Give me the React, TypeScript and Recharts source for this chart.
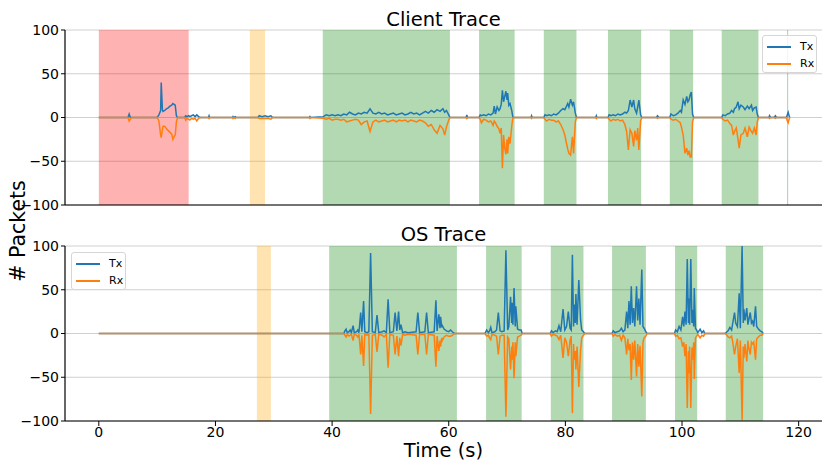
import { LineChart, Line, XAxis, YAxis, CartesianGrid, ReferenceArea } from 'recharts'

// client trace, packets per sample (Rx drawn negative)
const clientTime = [
  0, 5.0, 5.2, 5.4, 5.6,
  10.0, 10.3, 10.6, 10.7, 10.9, 11.0, 11.3, 11.6, 11.9, 12.2, 12.5, 12.7, 12.9, 13.1, 13.3, 13.5,
  14.7, 14.9, 15.1, 15.4, 15.6, 15.9, 16.2, 16.5, 16.8, 17.1, 17.4,
  18.8, 18.9, 19.0,
  22.9, 23.0, 23.1, 23.4, 23.5,
  27.3, 27.5, 28.0, 28.5, 29.0, 29.5, 29.8,
  36.1, 36.2, 36.3,
  38.5, 39, 39.5, 40, 40.5, 41, 41.5, 42, 42.5, 43, 43.5, 44, 44.5, 45, 45.5, 46, 46.5, 47, 47.5, 48, 48.5, 49, 49.5, 50,
  50.5, 51, 51.5, 52, 52.5, 53, 53.5, 54, 54.5, 55, 55.5, 56, 56.5, 57, 57.5, 58, 58.5, 59, 59.3, 59.6, 60, 60.2,
  63.0, 63.1, 63.2,
  65.2, 65.4, 65.6, 66.0, 66.4, 66.8, 67.2, 67.6, 67.8, 68.0, 68.3, 68.6, 68.8, 69.0, 69.2, 69.4, 69.6, 69.8, 70.0, 70.1, 70.3, 70.5, 70.8, 71.0,
  74.1, 74.2, 74.3,
  76.3, 76.5, 76.8, 77.2, 77.6, 78.0, 78.4, 78.8, 79.2, 79.6, 79.9, 80.2, 80.4, 80.6, 80.9, 81.1, 81.2, 81.4, 81.7, 81.9,
  85.2, 85.3, 85.4,
  87.3, 87.5, 87.8, 88.2, 88.6, 89.0, 89.4, 89.8, 90.2, 90.5, 90.8, 91.1, 91.4, 91.7, 91.9, 92.2, 92.4, 92.6, 92.9, 93.1,
  95.6, 95.8, 96.0,
  97.9, 98.1, 98.5, 98.9, 99.3, 99.7, 99.9, 100.2, 100.5, 100.8, 101.0, 101.2, 101.4, 101.6, 101.8, 102.0,
  106.8, 107.0, 107.4, 107.8, 108.2, 108.5, 108.8, 109.0, 109.3, 109.6, 109.8, 110.1, 110.5, 110.8, 111.2, 111.5, 111.9, 112.1, 112.4, 112.7, 112.9, 113.1,
  114.9, 115.0, 115.2, 115.8, 116.0, 116.2,
  117.9, 118.0, 118.2, 118.4, 118.5,
]
const clientTx = [
  0, 0, 4, 0, 0,
  0, 3, 8, 40, 9, 7, 8, 10, 11, 13, 14, 16, 15, 14, 2, 0,
  0, 2, 1, 2, 1, 2, 3, 1, 3, 1, 0,
  0, 2, 0,
  0, 1, 0, 1, 0,
  0, 2, 1, 2, 1, 2, 0,
  0, 1, 0,
  1, 3, 2, 3, 2, 3, 2, 4, 3, 6, 4, 3, 5, 4, 6, 5, 10, 5, 4, 6, 4, 5, 3, 4,
  5, 3, 4, 5, 3, 4, 6, 4, 5, 3, 5, 7, 5, 8, 6, 9, 7, 10, 6, 8, 3, 0,
  0, 3, 0,
  0, 3, 2, 3, 2, 4, 3, 5, 13, 4, 12, 8, 10, 15, 31, 18, 24, 30, 20, 28, 14, 16, 8, 0,
  0, 2, 0,
  0, 3, 2, 3, 2, 4, 3, 5, 8, 10, 9, 13, 16, 12, 21, 16, 14, 18, 5, 0,
  0, 2, 0,
  0, 3, 2, 3, 2, 4, 3, 4, 6, 5, 8, 20, 12, 20, 10, 5, 12, 20, 3, 0,
  0, 2, 0,
  0, 4, 2, 3, 5, 8, 6, 20, 15, 24, 18, 20, 26, 29, 4, 0,
  0, 3, 2, 4, 5, 8, 6, 10, 12, 18, 10, 14, 12, 9, 13, 10, 14, 8, 11, 12, 4, 0,
  0, 2, 0, 0, 2, 0,
  0, 2, 6, 1, 0,
]
const clientRx = [
  0, 0, -4, -2, 0,
  0, -4, -20, -23, -14, -10, -10, -13, -15, -17, -19, -25, -22, -20, -5, 0,
  0, -3, -1, -2, -3, -1, -2, -1, -4, -1, 0,
  0, -1, 0,
  0, -1, 0, -1, 0,
  0, -1, -1, -1, -1, -2, 0,
  0, -1, 0,
  -1, -2, -1, -3, -2, -2, -3, -2, -5, -4, -3, -2, -3, -8, -5, -4, -16, -5, -3, -5, -4, -3, -5, -4,
  -3, -5, -3, -4, -3, -5, -3, -4, -5, -3, -4, -6, -10, -8, -14, -18, -9, -13, -20, -11, -3, 0,
  0, -1, 0,
  0, -2, -6, -2, -3, -5, -4, -9, -4, -6, -10, -13, -18, -12, -58, -20, -35, -42, -25, -41, -22, -30, -10, 0,
  0, -1, 0,
  0, -2, -4, -2, -3, -3, -5, -4, -8, -14, -20, -30, -36, -41, -43, -28, -22, -41, -5, 0,
  0, -1, 0,
  0, -2, -4, -2, -3, -2, -4, -3, -8, -16, -37, -14, -18, -33, -15, -26, -12, -37, -4, 0,
  0, -1, 0,
  0, -2, -3, -2, -4, -6, -11, -20, -41, -35, -43, -38, -45, -45, -5, 0,
  0, -2, -4, -3, -7, -9, -20, -16, -12, -25, -35, -20, -18, -12, -22, -11, -16, -18, -12, -20, -5, 0,
  0, -1, 0, 0, -1, 0,
  0, -3, -6, -1, 0,
]

// OS trace
const osTime = [
  0, 42.0,
  42.2, 42.4, 42.6, 42.9, 43.1, 43.3, 43.6, 43.8, 44.2, 44.4, 44.6, 44.9, 45.1, 45.4, 45.6, 46.0, 46.3, 46.6, 46.9, 47.4,
  47.7, 48.0, 48.6, 48.9, 49.3, 49.6, 49.9, 50.5, 50.8, 51.1, 51.4, 51.6, 51.8, 52.1, 52.5, 53.0, 54.4, 54.7, 55.0, 55.9,
  56.2, 56.5, 57.5, 57.8, 58.0, 58.3, 58.5, 58.6, 58.8, 58.9, 59.2, 59.6, 60.0, 60.3, 60.6, 61.0,
  66.2, 66.5, 66.8, 67.0, 67.2, 67.4, 67.9, 68.2, 68.5, 68.8, 69.1, 69.5, 69.8, 70.1, 70.3, 70.6, 70.8, 70.9, 71.0, 71.2,
  71.4, 71.5, 71.8, 72.1, 72.4, 72.6,
  77.4, 77.6, 77.9, 78.3, 78.6, 78.9, 79.2, 79.6, 79.9, 80.2, 80.5, 80.8, 81.0, 81.2, 81.4, 81.5, 81.7, 81.8, 82.0, 82.3,
  82.6, 82.8, 83.1, 83.3,
  88.0, 88.2, 88.5, 88.9, 89.3, 89.6, 89.9, 90.2, 90.5, 90.7, 90.9, 91.1, 91.3, 91.5, 91.7, 91.9, 92.2, 92.4, 92.6, 92.8,
  93.1, 93.3, 93.5, 93.8, 94.0,
  98.7, 98.9, 99.2, 99.5, 99.8, 100.1, 100.3, 100.5, 100.7, 100.9, 101.1, 101.2, 101.3, 101.5, 101.7, 101.8, 102.0, 102.1, 102.3, 102.5,
  102.7, 103.1, 103.4, 103.7, 103.9,
  107.4, 107.7, 107.9, 108.2, 108.5, 108.7, 109.0, 109.2, 109.5, 109.8, 110.0, 110.3, 110.5, 110.6, 110.8, 111.1, 111.3, 111.4, 111.7, 111.9,
  112.1, 112.3, 112.6, 112.8, 113.1, 113.4, 113.7, 113.9,
]
const osTx = [
  0, 0,
  3, 5, 1, 2, 4, 1, 9, 1, 2, 4, 1, 24, 2, 37, 2, 1, 2, 92, 2, 1,
  21, 1, 2, 3, 1, 39, 1, 2, 24, 3, 25, 4, 10, 1, 2, 1, 2, 24, 1, 2,
  24, 1, 2, 38, 3, 22, 6, 19, 7, 9, 5, 3, 2, 4, 2, 0,
  0, 4, 1, 3, 7, 1, 2, 4, 24, 3, 2, 3, 95, 4, 8, 42, 12, 35, 10, 52,
  8, 31, 5, 4, 4, 0,
  0, 3, 1, 3, 2, 9, 2, 28, 4, 8, 25, 6, 4, 90, 8, 33, 12, 45, 10, 61,
  16, 4, 2, 0,
  0, 3, 1, 2, 3, 6, 2, 4, 25, 6, 37, 10, 54, 12, 29, 8, 54, 15, 40, 10,
  73, 8, 6, 2, 0,
  0, 4, 2, 8, 4, 19, 8, 25, 10, 85, 12, 40, 10, 85, 12, 27, 8, 52, 6, 4,
  1, 5, 1, 3, 0,
  0, 2, 3, 7, 4, 12, 24, 12, 8, 46, 6, 100, 12, 28, 15, 29, 10, 14, 24, 12,
  14, 8, 31, 8, 5, 3, 2, 0,
]
const osRx = [
  0, 0,
  -2, -4, -1, -3, -2, -1, -8, -1, -2, -4, -1, -24, -2, -37, -1, -2, -1, -92, -2, -1,
  -21, -1, -2, -4, -1, -39, -1, -2, -24, -3, -26, -5, -14, -1, -2, -1, -2, -24, -1, -1,
  -24, -1, -2, -38, -3, -20, -8, -15, -5, -8, -4, -2, -3, -3, -2, 0,
  0, -3, -2, -5, -7, -1, -2, -3, -24, -3, -2, -2, -95, -4, -6, -41, -15, -30, -10, -51,
  -10, -26, -4, -3, -2, 0,
  0, -3, -1, -2, -3, -7, -2, -28, -5, -10, -26, -8, -3, -91, -12, -30, -20, -41, -15, -61,
  -19, -5, -2, 0,
  0, -3, -1, -3, -2, -8, -2, -5, -24, -6, -19, -12, -53, -10, -30, -8, -49, -12, -38, -14,
  -72, -10, -5, -3, 0,
  0, -3, -2, -6, -5, -15, -10, -26, -12, -85, -20, -45, -15, -85, -16, -30, -10, -52, -5, -3,
  -1, -5, -2, -3, 0,
  0, -2, -4, -5, -3, -10, -24, -15, -6, -45, -8, -99, -15, -28, -12, -32, -8, -15, -24, -10,
  -12, -10, -30, -6, -4, -2, -2, 0,
]

// shaded phases [start, end, kind]
const clientPhases: [number, number, string][] = [
  [0, 15.4, 'red'], [25.9, 28.5, 'orange'], [38.4, 60.2, 'green'], [65.2, 71.3, 'green'],
  [76.3, 81.9, 'green'], [87.3, 93.0, 'green'], [97.9, 101.9, 'green'], [106.8, 113.1, 'green'],
  [118.0, 118.2, 'green'],
]
const osPhases: [number, number, string][] = [
  [27.1, 29.5, 'orange'], [39.5, 61.4, 'green'], [66.4, 72.5, 'green'], [77.5, 83.1, 'green'],
  [88.0, 93.8, 'green'], [98.8, 102.6, 'green'], [107.5, 113.9, 'green'],
]

const xTicks = [0, 20, 40, 60, 80, 100, 120]
const yTicks = [-100, -50, 0, 50, 100]

const phaseColor: Record<string, string> = { red: '#ff0000', orange: '#ffa500', green: '#008000' }
const TX = '#1f77b4'
const RX = '#ff7f0e'
const FONT = 'DejaVu Sans, sans-serif'

const minus = (v: number) => String(v).replace('-', '\u2212')

function build(time: number[], tx: number[], rx: number[]) {
  return time.map((t, i) => ({ t, tx: tx[i], rx: rx[i] }))
}

function TraceChart({ data, phases, height, xHeight, labels }: {
  data: { t: number; tx: number; rx: number }[]
  phases: [number, number, string][]
  height: number
  xHeight: number
  labels: boolean
}) {
  return (
    <LineChart width={823} height={height} data={data} margin={{ top: 30, right: 1, bottom: 0, left: 0 }}>
      <CartesianGrid vertical={false} stroke="#d0d0d0" strokeWidth={1} />
      {phases.map(([a, b, k], i) => (
        <ReferenceArea key={i} x1={a} x2={b} y1={-100} y2={100} fill={phaseColor[k]} fillOpacity={0.3} strokeWidth={0} ifOverflow="hidden" />
      ))}
      <XAxis
        type="number"
        dataKey="t"
        domain={[-5.8, 124]}
        ticks={xTicks}
        allowDataOverflow
        height={xHeight}
        tickSize={5}
        tickMargin={1}
        tick={labels ? { fill: '#000', fontSize: 14, fontFamily: FONT } : false}
        axisLine={{ stroke: '#000', strokeWidth: 1.2 }}
        tickLine={{ stroke: '#000' }}
      />
      <YAxis
        type="number"
        domain={[-100, 100]}
        ticks={yTicks}
        width={65}
        tickSize={4}
        tickMargin={2}
        tickFormatter={minus}
        tick={{ fill: '#000', fontSize: 14, fontFamily: FONT }}
        axisLine={{ stroke: '#000', strokeWidth: 1.2 }}
        tickLine={{ stroke: '#000' }}
      />
      <Line type="linear" dataKey="tx" stroke={TX} strokeWidth={1.5} dot={false} isAnimationActive={false} />
      <Line type="linear" dataKey="rx" stroke={RX} strokeWidth={1.5} dot={false} isAnimationActive={false} />
    </LineChart>
  )
}

function LegendBox({ left, top }: { left: number; top: number }) {
  const row = (color: string, label: string) => (
    <div style={{ display: 'flex', alignItems: 'center', height: 17 }}>
      <div style={{ width: 24, height: 2, background: color, marginLeft: 4, marginRight: 9 }} />
      <span>{label}</span>
    </div>
  )
  return (
    <div style={{
      position: 'absolute', left, top, width: 55, height: 38, boxSizing: 'border-box',
      border: '1px solid #d6d6d6', borderRadius: 3, background: 'rgba(255,255,255,0.8)',
      fontFamily: FONT, fontSize: 11, paddingTop: 2,
    }}>
      {row(TX, 'Tx')}
      {row(RX, 'Rx')}
    </div>
  )
}

export default function App() {
  const clientData = build(clientTime, clientTx, clientRx)
  const osData = build(osTime, osTx, osRx)
  const title = { position: 'absolute' as const, left: 65, width: 757, textAlign: 'center' as const, lineHeight: 1, whiteSpace: 'nowrap' as const }
  return (
    <div style={{ position: 'absolute', left: 0, top: 0, width: 823, height: 464, background: '#fff', fontFamily: FONT }}>
      <div style={{ position: 'absolute', left: 0, top: 0 }}>
        <TraceChart data={clientData} phases={clientPhases} height={220} xHeight={15} labels={false} />
      </div>
      <div style={{ position: 'absolute', left: 0, top: 216 }}>
        <TraceChart data={osData} phases={osPhases} height={248} xHeight={43} labels />
      </div>
      <div style={{ ...title, top: 9.5, fontSize: 19.5 }}>Client Trace</div>
      <div style={{ ...title, top: 225, fontSize: 19.5 }}>OS Trace</div>
      <div style={{ ...title, top: 441, fontSize: 19.5 }}>Time (s)</div>
      <div style={{
        position: 'absolute', left: 18, top: 230.5, transform: 'translate(-50%, -50%) rotate(-90deg)',
        fontSize: 20.5, lineHeight: 1, whiteSpace: 'nowrap',
      }}># Packets</div>
      <LegendBox left={762} top={35} />
      <LegendBox left={71} top={252} />
    </div>
  )
}
